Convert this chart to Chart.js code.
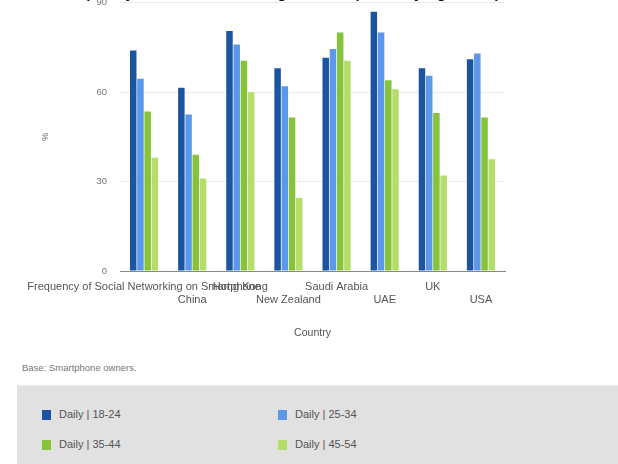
<!DOCTYPE html>
<html>
<head>
<meta charset="utf-8">
<script src="https://cdn.jsdelivr.net/npm/chart.js@4.4.0/dist/chart.umd.min.js"></script>
<style>
  html, body { margin: 0; padding: 0; background: #fff; }
  body { width: 618px; height: 464px; position: relative; overflow: hidden; font-family: "Liberation Sans", Arial, sans-serif; }
  #chart-wrap { position: absolute; left: 0; top: -16px; width: 618px; height: 363px; }
  #title { position: absolute; top: -16px; left: 58px; font-size: 15px; font-weight: bold; color: #111; white-space: nowrap; }
  #base { position: absolute; left: 22px; top: 362px; font-size: 9.5px; color: #777; }
  #legend { position: absolute; left: 17px; top: 385px; width: 610px; height: 85px; background: #e1e1e1; border-top: 1px solid #ececec; }
  .item { position: absolute; font-size: 11px; color: #555; white-space: nowrap; line-height: 12px; }
  .item span.sw { display: inline-block; width: 9px; height: 10px; margin-right: 8px; vertical-align: -2px; }
</style>
</head>
<body>
<div id="chart-wrap"><canvas id="chart"></canvas></div>
<div id="title">Frequency of Social Networking on Smartphone by Age Group</div>
<div id="base">Base: Smartphone owners.</div>
<div id="legend"></div>
<script>
// categories and values (%)
const countries = ['Frequency of Social Networking on Smartphone', 'China', 'Hong Kong', 'New Zealand', 'Saudi Arabia', 'UAE', 'UK', 'USA'];
const seriesLabels = ['Daily | 18-24', 'Daily | 25-34', 'Daily | 35-44', 'Daily | 45-54'];
const age18to24 = [74, 61.5, 80.5, 68, 71.5, 87, 68, 71];
const age25to34 = [64.5, 52.5, 76, 62, 74.5, 80, 65.5, 73];
const age35to44 = [53.5, 39, 70.5, 51.5, 80, 64, 53, 51.5];
const age45to54 = [38, 31, 60, 24.5, 70.5, 61, 32, 37.5];
const yTicks = [0, 30, 60, 90];

const colors = ['#1b55a1', '#5b98e9', '#86c23b', '#b3df69'];
const values = [age18to24, age25to34, age35to44, age45to54];

const datasets = values.map((v, i) => ({
  label: seriesLabels[i],
  data: v,
  backgroundColor: colors[i],
  borderWidth: 0,
  barPercentage: 0.9,
  categoryPercentage: 0.6
}));

new Chart(document.getElementById('chart'), {
  type: 'bar',
  data: { labels: countries, datasets: datasets },
  options: {
    responsive: true,
    maintainAspectRatio: false,
    animation: false,
    layout: { padding: { left: 40, right: 113, top: 0, bottom: 4 } },
    plugins: { legend: { display: false }, tooltip: { enabled: false } },
    scales: {
      x: {
        grid: { display: false },
        border: { color: '#8a8a8a', width: 1 },
        ticks: {
          autoSkip: false,
          maxRotation: 0,
          padding: 1,
          color: '#555',
          font: { size: 11, family: 'Liberation Sans' },
          callback: function (val, idx) {
            const label = this.getLabelForValue(val);
            return idx % 2 === 0 ? [label, ''] : ['', label];
          }
        },
        title: { display: true, text: 'Country', color: '#555', font: { size: 10.5, family: 'Liberation Sans' }, padding: { top: 19, bottom: 4 } }
      },
      y: {
        min: 0,
        max: 90,
        afterBuildTicks: (scale) => { scale.ticks = yTicks.map(v => ({ value: v })); },
        afterFit: (scale) => { scale.width = 80; },
        border: { display: false },
        grid: {
          drawTicks: false,
          color: (ctx) => ctx.tick && ctx.tick.value === 0 ? '#8a8a8a' : '#ebebeb'
        },
        ticks: { padding: 13, color: '#777', font: { size: 9.5, family: 'Liberation Sans' } },
        title: { display: true, text: '%', color: '#666', font: { size: 9.5, family: 'Liberation Sans' }, padding: 0 }
      }
    }
  }
});

// legend in the grey box, two columns
const legend = document.getElementById('legend');
const pos = [[25, 22], [261, 22], [25, 52], [261, 52]];
seriesLabels.forEach((label, i) => {
  const el = document.createElement('div');
  el.className = 'item';
  el.style.left = pos[i][0] + 'px';
  el.style.top = pos[i][1] + 'px';
  el.innerHTML = `<span class="sw" style="background:${colors[i]}"></span>${label}`;
  legend.appendChild(el);
});
</script>
</body>
</html>
